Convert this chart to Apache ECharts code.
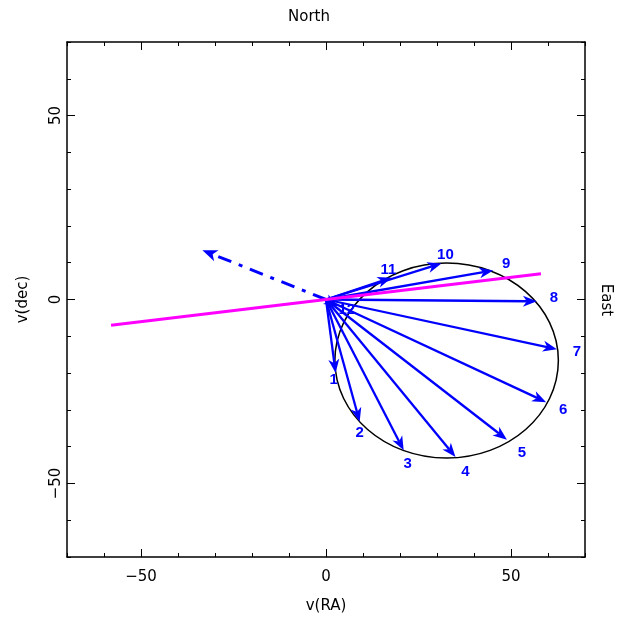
<!DOCTYPE html>
<html>
<head>
<meta charset="utf-8">
<script src="https://cdn.jsdelivr.net/npm/echarts@6/dist/echarts.min.js"></script>
<style>
  html, body {margin: 0; padding: 0; background: #fff;}
  #main {width: 618px; height: 619px;}
</style>
</head>
<body>
<div id="main"></div>
<script>
// velocity vectors, one per epoch (km/s)
const epochs = ['1', '2', '3', '4', '5', '6', '7', '8', '9', '10', '11', '12'];
const vRA = [2.6, 9.1, 21.0, 35.0, 48.9, 59.5, 62.4, 57.0, 45.2, 31.2, 17.7, 3.2];
const vDec = [-20.0, -33.2, -41.0, -42.8, -38.1, -27.9, -13.5, -0.5, 7.9, 9.8, 5.9, -1.8];

// fitted orbit ellipse
const orbitCentre = [32.6, -16.6];
const orbitRadii = [30.2, 26.5];

// position angle line and mean motion vector
const paLineRA = [-58.1, 58.1];
const paLineDec = [-7.0, 7.0];
const meanRA = -33.4;
const meanDec = 13.4;

const majorTicks = [-50, 0, 50];

// label nudges in pixels (layout only)
const labelShift = [[-2, 7], [0, 11], [4, 14], [10, 15], [15, 13], [17, 8], [20, 3], [17, -3], [13, -7], [4, -9], [-3, -8], [9, 4]];

const FONT = 'DejaVu Sans';
const BLUE = '#0000ff';

function minusSign(v) {
  return String(v).replace('-', '\u2212');
}

function arrowShape(p0, p1, len, half, notch) {
  const dx = p1[0] - p0[0], dy = p1[1] - p0[1];
  const d = Math.sqrt(dx * dx + dy * dy) || 1;
  const ux = dx / d, uy = dy / d;
  const nx = -uy, ny = ux;
  const bx = p1[0] - ux * len, by = p1[1] - uy * len;
  const mx = p1[0] - ux * (len - notch), my = p1[1] - uy * (len - notch);
  return {
    head: [[p1[0], p1[1]], [bx + nx * half, by + ny * half], [mx, my], [bx - nx * half, by - ny * half]],
    end: [mx, my]
  };
}

function axisPair(pos, withLabels) {
  const minor = {
    type: 'value', position: pos, min: -70, max: 70, interval: 10,
    axisLine: {show: true, onZero: false, lineStyle: {color: '#000', width: 1.5}},
    axisTick: {show: true, inside: true, length: 4, lineStyle: {color: '#000', width: 1}},
    axisLabel: {show: false},
    splitLine: {show: false}
  };
  const major = {
    type: 'value', position: pos, min: -70, max: 70, interval: 10,
    axisLine: {show: false, onZero: false},
    axisTick: {show: true, inside: true, length: 8, customValues: majorTicks, lineStyle: {color: '#000', width: 1}},
    axisLabel: {show: withLabels, customValues: majorTicks, formatter: minusSign,
      fontFamily: FONT, fontSize: 15, color: '#000'},
    splitLine: {show: false}
  };
  return [minor, major];
}

const xb = axisPair('bottom', true);
xb[1].name = 'v(RA)';
xb[1].nameLocation = 'middle';
xb[1].nameGap = 42;
xb[1].nameTextStyle = {fontFamily: FONT, fontSize: 15, color: '#000'};
xb[1].axisLabel.margin = 13;
const xt = axisPair('top', false);

const yl = axisPair('left', true);
yl[1].name = 'v(dec)';
yl[1].nameLocation = 'middle';
yl[1].nameGap = 36;
yl[1].nameTextStyle = {fontFamily: FONT, fontSize: 15, color: '#000'};
yl[1].axisLabel.rotate = 90;
yl[1].axisLabel.margin = 3;
const yr = axisPair('right', false);

const chart = echarts.init(document.getElementById('main'));

const option = {
  animation: false,
  backgroundColor: '#fff',
  grid: {left: 67, right: 33, top: 42, bottom: 62, containLabel: false, outerBoundsMode: 'none'},
  xAxis: [xb[0], xb[1], xt[0], xt[1]],
  yAxis: [yl[0], yl[1], yr[0], yr[1]],
  graphic: [
    {type: 'text', left: 'center', x: 0, top: 10,
      style: {text: 'North', font: '15px "DejaVu Sans"', fill: '#000'}},
    {type: 'text', x: 606, y: 300, rotation: -Math.PI / 2,
      style: {text: 'East', font: '15px "DejaVu Sans"', fill: '#000', align: 'center', verticalAlign: 'middle'}}
  ],
  series: [
    {
      // orbit ellipse
      type: 'custom',
      xAxisIndex: 0, yAxisIndex: 0,
      data: [[orbitCentre[0], orbitCentre[1], orbitRadii[0], orbitRadii[1]]],
      renderItem: function (params, api) {
        const c = api.coord([api.value(0), api.value(1)]);
        const s = api.size([api.value(2), api.value(3)]);
        return {
          type: 'ellipse',
          shape: {cx: c[0], cy: c[1], rx: s[0], ry: s[1]},
          style: {fill: 'none', stroke: '#000', lineWidth: 1.5}
        };
      },
      z: 2
    },
    {
      // velocity arrows with epoch numbers
      type: 'custom',
      xAxisIndex: 0, yAxisIndex: 0,
      data: vRA.map((v, i) => [v, vDec[i], i]),
      renderItem: function (params, api) {
        const i = api.value(2);
        const p0 = api.coord([0, 0]);
        const p1 = api.coord([api.value(0), api.value(1)]);
        const a = arrowShape(p0, p1, 14, 5.5, 4);
        const sh = labelShift[i];
        return {
          type: 'group',
          children: [
            {type: 'line', shape: {x1: p0[0], y1: p0[1], x2: a.end[0], y2: a.end[1]},
              style: {stroke: BLUE, lineWidth: 2.3}},
            {type: 'polygon', shape: {points: a.head}, style: {fill: BLUE}},
            {type: 'text', x: p1[0] + sh[0], y: p1[1] + sh[1],
              style: {text: epochs[i], fill: BLUE, font: 'bold 15px "Liberation Sans"',
                align: 'center', verticalAlign: 'middle'}}
          ]
        };
      },
      z: 3
    },
    {
      // mean motion, dash-dot arrow
      type: 'custom',
      xAxisIndex: 0, yAxisIndex: 0,
      data: [[meanRA, meanDec]],
      renderItem: function (params, api) {
        const p0 = api.coord([0, 0]);
        const p1 = api.coord([api.value(0), api.value(1)]);
        const a = arrowShape(p0, p1, 15, 6, 4);
        return {
          type: 'group',
          children: [
            {type: 'line', shape: {x1: p0[0], y1: p0[1], x2: a.end[0], y2: a.end[1]},
              style: {stroke: BLUE, lineWidth: 3, lineDash: [14, 8, 4, 8]}},
            {type: 'polygon', shape: {points: a.head}, style: {fill: BLUE}}
          ]
        };
      },
      z: 3
    },
    {
      type: 'line',
      xAxisIndex: 0, yAxisIndex: 0,
      data: paLineRA.map((v, i) => [v, paLineDec[i]]),
      symbol: 'none',
      lineStyle: {color: '#ff00ff', width: 3},
      z: 4
    }
  ]
};

chart.setOption(option);
</script>
</body>
</html>
